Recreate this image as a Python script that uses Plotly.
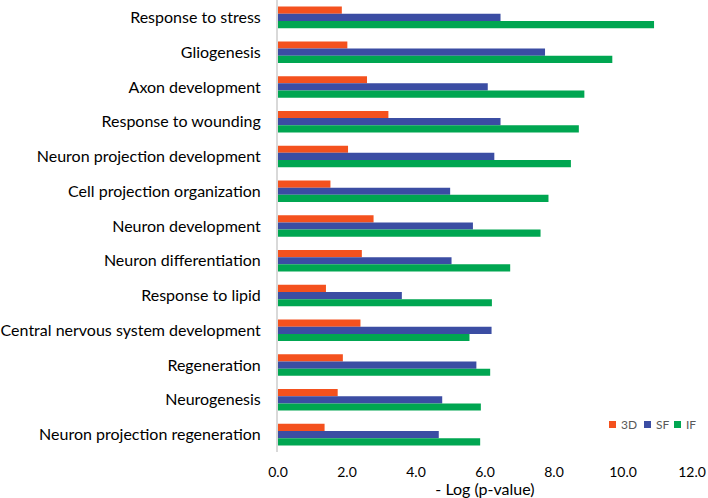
import plotly.graph_objects as go

categories = [
    "Response to stress", "Gliogenesis", "Axon development", "Response to wounding",
    "Neuron projection development", "Cell projection organization", "Neuron development",
    "Neuron differentiation", "Response to lipid", "Central nervous system development",
    "Regeneration", "Neurogenesis", "Neuron projection regeneration",
]
vals_3d = [1.85, 2.01, 2.58, 3.20, 2.03, 1.52, 2.77, 2.43, 1.39, 2.39, 1.88, 1.73, 1.35]
vals_sf = [6.45, 7.74, 6.08, 6.45, 6.27, 4.99, 5.65, 5.03, 3.59, 6.19, 5.75, 4.76, 4.66]
vals_if = [10.90, 9.69, 8.88, 8.72, 8.49, 7.84, 7.61, 6.73, 6.20, 5.55, 6.15, 5.88, 5.86]
x_ticks = [0, 2, 4, 6, 8, 10, 12]
series_names = ["3D", "SF", "IF"]
series_colors = ["#F4511E", "#3B4DA3", "#00A651"]

W, H = 708, 498
ML, MR, MT, MB = 278, 16, 0, 46
PW, PH = W - ML - MR, H - MT - MB

fig = go.Figure()
for name, vals, col in zip(series_names, [vals_3d, vals_sf, vals_if], series_colors):
    fig.add_trace(go.Bar(
        y=categories, x=vals, name=name, orientation="h",
        marker=dict(color=col, line=dict(width=0)),
        showlegend=False,
    ))

# compact legend (Excel-style) built from small squares + labels
legend_sq_x = [612.5, 647.5, 677.5]
legend_tx_x = [619.0, 654.0, 684.0]
legend_y = 424.5
for name, col, sx, tx in zip(series_names, series_colors, legend_sq_x, legend_tx_x):
    fig.add_shape(type="rect", xref="paper", yref="paper",
                  x0=(sx - 3.5 - ML) / PW, x1=(sx + 3.5 - ML) / PW,
                  y0=(H - MB - legend_y - 3.5) / PH, y1=(H - MB - legend_y + 3.5) / PH,
                  fillcolor=col, line=dict(width=0), layer="above")
    fig.add_annotation(text=name, xref="paper", yref="paper",
                       x=(tx - ML) / PW, y=(H - MB - legend_y) / PH,
                       xanchor="left", yanchor="middle", showarrow=False,
                       font=dict(size=12, color="#595959"))

font_family = "Lato, 'Liberation Sans', sans-serif"
fig.update_layout(
    width=W, height=H,
    margin=dict(l=ML, r=MR, t=MT, b=MB, autoexpand=False),
    barmode="group", bargap=0.38, bargroupgap=0,
    plot_bgcolor="white", paper_bgcolor="white",
    font=dict(family=font_family, color="#000000"),
    showlegend=False,
    xaxis=dict(
        range=[0, 12], tickvals=x_ticks, tickformat=".1f", automargin=False,
        showgrid=False, zeroline=False, showline=False,
        ticks="", ticklabelstandoff=10,
        tickfont=dict(size=14, color="#000000"),
        title=dict(text="- Log (p-value)", font=dict(size=16, color="#000000"), standoff=2),
    ),
    yaxis=dict(
        autorange="reversed", showgrid=False, zeroline=False, automargin=False,
        showline=True, linecolor="#D9D9D9", linewidth=2,
        ticks="", ticklabelstandoff=12,
        tickfont=dict(size=16, color="#000000"),
    ),
)

fig.write_html("out.html", config={"displayModeBar": False},
               post_script="document.body.style.margin='0px';")
